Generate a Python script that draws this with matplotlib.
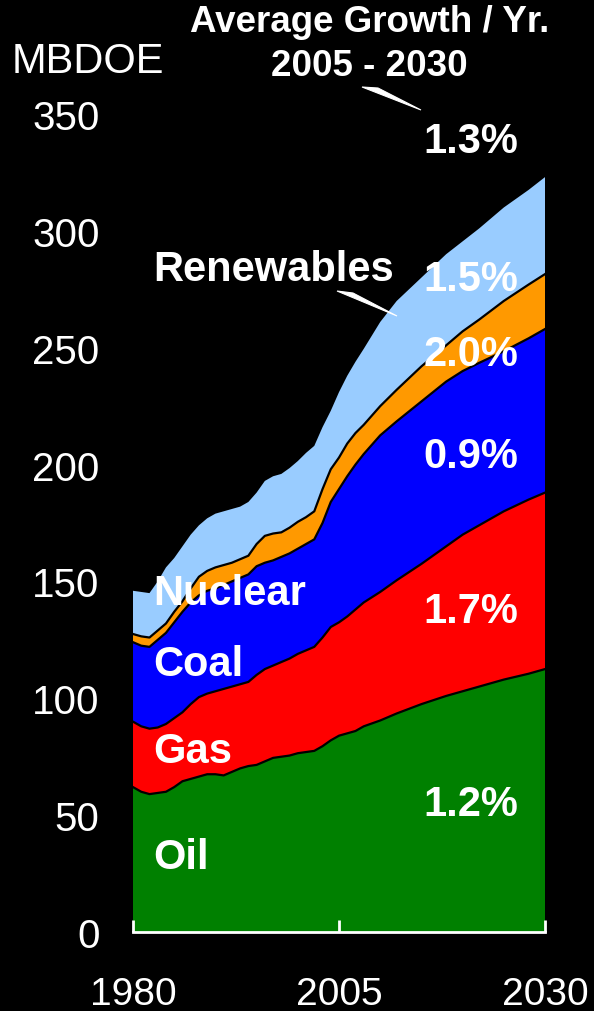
import numpy as np
import matplotlib
matplotlib.use('Agg')
import matplotlib.pyplot as plt
from matplotlib.patches import Polygon

plt.rcParams['font.family'] = ['Liberation Sans', 'DejaVu Sans']

# ---- data (MBDOE), cumulative boundaries ----
years = [1980, 1981, 1982, 1983, 1984, 1985, 1986, 1987, 1988, 1989,
         1990, 1991, 1992, 1993, 1994, 1995, 1996, 1997, 1998, 1999,
         2000, 2001, 2002, 2003, 2004, 2005,
         2006, 2007, 2008, 2010, 2012, 2015, 2018, 2020, 2022, 2025, 2028, 2030]

oil_top = [62, 60, 59, 59.5, 60, 62, 64.5, 65.5, 66.5, 67.5,
           67.5, 67, 68.5, 70, 71, 71.5, 73, 74.5, 75, 75.5,
           76.5, 77, 77.5, 79.5, 82, 84,
           85, 86, 88, 90.5, 93.5, 97.5, 101, 103, 105, 108, 110.5, 112.5]
gas_top = [90, 88, 87, 87.5, 89, 91.5, 94, 97.5, 100.5, 102,
           103, 104, 105, 106, 107, 110, 112.5, 114, 115.5, 117,
           119, 120.5, 122, 126, 130.5, 132.5,
           135, 138, 141, 145.5, 150.5, 157.5, 165, 170, 174, 180, 185, 188]
coal_top = [124, 122.5, 122, 125, 128, 132.5, 137, 141, 144, 146,
            147, 148.5, 150, 151.5, 153, 156.5, 158, 159, 160.5, 162,
            164, 166, 168, 175, 184, 189.5,
            195, 200, 204.5, 212.5, 218.5, 227, 235.5, 240, 243.5, 248.5, 254, 258]
nuclear_top = [127.5, 126.5, 126, 129, 132, 137, 141.5, 147, 152, 154.5,
               156, 157, 158, 159.5, 161, 166, 169.5, 170.5, 171, 173,
               175.5, 177.5, 180, 189.5, 198, 203,
               209, 213.5, 217, 225, 232, 242, 251, 257, 262, 270, 277, 281.5]
renew_top = [146, 145.5, 145, 150, 156, 160, 165, 170, 174, 177,
             179, 180, 181, 182, 184, 188, 193, 195, 196, 198.5,
             201.5, 205, 208, 216, 223, 231,
             238, 244, 249.5, 261, 270, 280, 290, 295.5, 301, 310, 317.5, 323]

labels = ['Oil', 'Gas', 'Coal', 'Nuclear', 'Renewables']
growth = ['1.2%', '1.7%', '0.9%', '2.0%', '1.5%']
total_growth = '1.3%'
colors = ['#008000', '#FF0000', '#0000FF', '#FF9900', '#99CCFF']
xticks = [1980, 2005, 2030]
yticks = [0, 50, 100, 150, 200, 250, 300, 350]

tops = [np.array(t, dtype=float) for t in (oil_top, gas_top, coal_top, nuclear_top, renew_top)]
amounts = [tops[0]] + [tops[i] - tops[i - 1] for i in range(1, 5)]

W, H = 594, 1012
fig = plt.figure(figsize=(W / 100, H / 100), dpi=100, facecolor='black')
ax = fig.add_axes([133 / W, (H - 933) / H, 412 / W, (933 - 115) / H])
ax.set_facecolor('black')

ax.stackplot(years, *amounts, colors=colors, linewidth=0)
for t in tops[:-1]:
    ax.plot(years, t, color='black', lw=1.6, solid_joinstyle='round')

ax.set_xlim(1980, 2030)
ax.set_ylim(0, 350)
for s in ['top', 'right', 'left']:
    ax.spines[s].set_visible(False)
ax.spines['bottom'].set_color('white')
ax.spines['bottom'].set_linewidth(2)
ax.spines['bottom'].set_zorder(5)
ax.set_xticks(xticks)
ax.set_xticklabels([str(x) for x in xticks])
ax.set_yticks(yticks)
ax.set_yticklabels([str(y) for y in yticks])
ax.tick_params(axis='x', direction='in', length=9, width=2, color='white',
               labelcolor='white', labelsize=28, pad=32)
ax.tick_params(axis='y', length=0, labelcolor='white', labelsize=29, pad=24)


def fx(px):
    return px / W


def fy(py):
    return 1 - py / H


fig.text(fx(88), fy(62), 'MBDOE', color='white', fontsize=30, ha='center', va='center')
fig.text(fx(370), fy(22), 'Average Growth / Yr.', color='white', fontsize=26.5,
         fontweight='bold', ha='center', va='center')
fig.text(fx(369), fy(66), '2005 - 2030', color='white', fontsize=26.5,
         fontweight='bold', ha='center', va='center')

bold = dict(color='white', fontsize=30, fontweight='bold', va='center')
fig.text(fx(518), fy(142), total_growth, ha='right', **bold)
for txt, py in zip(growth, [805, 612, 457, 355, 280]):
    fig.text(fx(518), fy(py), txt, ha='right', **bold)
for txt, py in zip(labels, [858, 752, 665, 594, 270]):
    fig.text(fx(153), fy(py), txt, ha='left', **bold)

for pts in ([(362, 88), (378, 89), (421, 111)],
            [(337, 292), (353, 294), (397, 317)]):
    fig.patches.append(Polygon([(fx(a), fy(b)) for a, b in pts], closed=True,
                               transform=fig.transFigure, facecolor='white',
                               edgecolor='white', lw=0.8))

fig.savefig('out.png', dpi=100, facecolor='black')
